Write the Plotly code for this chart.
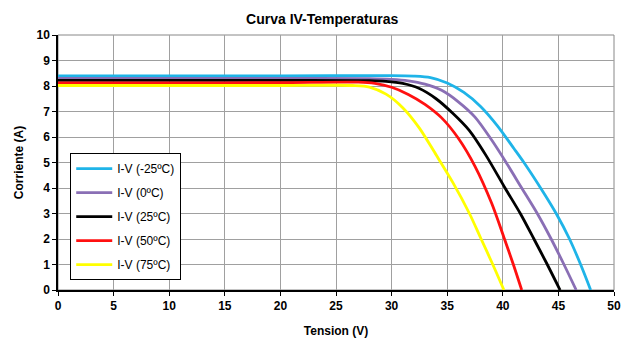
import plotly.graph_objects as go

v_m25 = [0, 10, 20, 30, 32, 33.5, 35, 36.5, 38, 39.5, 41, 41.9, 43.4, 44.8, 46.0, 47.0, 47.9]
i_m25 = [8.40, 8.40, 8.40, 8.41, 8.39, 8.33, 8.12, 7.75, 7.20, 6.45, 5.55, 5.0, 4.0, 3.0, 2.0, 1.0, 0.0]

v_0 = [0, 10, 20, 28, 30, 31.5, 33, 34.5, 36, 37.5, 39, 40.3, 41.7, 43.1, 44.35, 45.5, 46.6]
i_0 = [8.30, 8.30, 8.30, 8.29, 8.26, 8.20, 8.07, 7.83, 7.38, 6.78, 5.88, 5.0, 4.0, 3.0, 2.0, 1.0, 0.0]

v_25 = [0, 10, 20, 28, 29.5, 31, 32.5, 34, 35.5, 37, 38.5, 40.2, 41.6, 42.8, 44.0, 45.15]
i_25 = [8.22, 8.22, 8.22, 8.21, 8.18, 8.10, 7.90, 7.50, 6.93, 6.25, 5.27, 4.0, 2.98, 2.0, 1.0, 0.0]

v_50 = [0, 10, 20, 27, 28.5, 30, 31.5, 33, 34.5, 36, 37.5, 39, 40.15, 40.95, 41.7]
i_50 = [8.12, 8.12, 8.13, 8.15, 8.10, 7.95, 7.67, 7.28, 6.75, 5.95, 4.85, 3.40, 2.0, 1.0, 0.0]

v_75 = [0, 10, 20, 25, 26.5, 28, 29.5, 31, 32.5, 34, 35.5, 37.0, 38.0, 39.1, 40.1]
i_75 = [8.02, 8.02, 8.02, 8.03, 8.02, 7.96, 7.68, 7.15, 6.35, 5.30, 4.22, 3.0, 2.05, 1.0, 0.0]

names = ["I-V (-25ºC)", "I-V (0ºC)", "I-V (25ºC)", "I-V (50ºC)", "I-V (75ºC)"]
colors = ["#1fb4e8", "#8a6fb5", "#000000", "#ff1010", "#ffff00"]
series = [(v_m25, i_m25), (v_0, i_0), (v_25, i_25), (v_50, i_50), (v_75, i_75)]

x_ticks = list(range(0, 51, 5))
y_ticks = list(range(0, 11, 1))

fig = go.Figure()
for k, ((vx, iy), n, c) in enumerate(zip(series, names, colors)):
    fig.add_trace(go.Scatter(x=vx, y=iy, mode="lines", name=n, legendgroup=f"g{k}",
                             line=dict(color=c, width=2.8, shape="spline", smoothing=0.8)))

font = "Liberation Sans, Arial, sans-serif"
fig.update_layout(
    width=622, height=340,
    margin=dict(l=58, r=8, t=35, b=50),
    paper_bgcolor="white", plot_bgcolor="white",
    title=dict(text="<b>Curva IV-Temperaturas</b>", x=0.518, xanchor="center", y=0.945, yanchor="middle",
               font=dict(family=font, size=14, color="#000")),
    font=dict(family=font, color="#000"),
    showlegend=True,
    legend=dict(x=0.022, y=0.537, xanchor="left", yanchor="top",
                bgcolor="white", bordercolor="#000", borderwidth=1,
                font=dict(family=font, size=12, color="#000"),
                tracegroupgap=5, itemwidth=36),
    shapes=[dict(type="rect", xref="paper", yref="paper", x0=0, y0=0, x1=1, y1=1,
                 line=dict(color="#888", width=1), layer="below")],
)
fig.update_xaxes(range=[0, 50], tickvals=x_ticks, ticktext=[f"<b>{t}</b>" for t in x_ticks],
                 automargin=False,
                 showgrid=True, gridcolor="#a0a0a0", gridwidth=1,
                 showline=True, linecolor="#000", linewidth=1.5,
                 ticks="outside", ticklen=4, tickcolor="#000",
                 tickfont=dict(size=12, family=font, color="#000"),
                 title=dict(text="<b>Tension (V)</b>", font=dict(size=12, family=font), standoff=14),
                 zeroline=False)
fig.update_yaxes(range=[0, 10], tickvals=y_ticks, ticktext=[f"<b>{t}</b>" for t in y_ticks],
                 automargin=False,
                 showgrid=True, gridcolor="#a0a0a0", gridwidth=1,
                 showline=True, linecolor="#000", linewidth=1.5,
                 ticks="outside", ticklen=4, tickcolor="#000",
                 tickfont=dict(size=12, family=font, color="#000"),
                 title=dict(text="<b>Corriente (A)</b>", font=dict(size=12, family=font), standoff=10),
                 zeroline=False)

fig.write_html("out.html")
